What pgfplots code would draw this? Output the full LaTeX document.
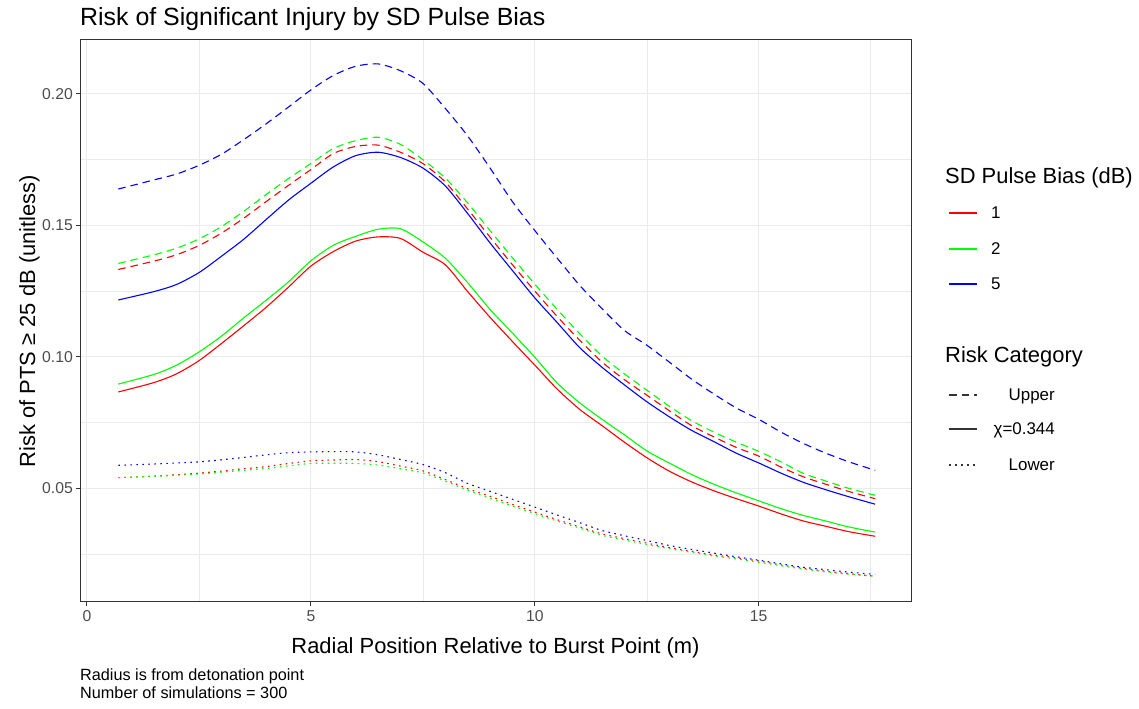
\documentclass[border=0pt]{standalone}
\usepackage{pgfplots}
\usepackage{pgfplotstable}
\pgfplotsset{compat=1.18}
\usepackage{fontspec}
\setmainfont{Liberation Sans}

\definecolor{gridgrey}{HTML}{EBEBEB}
\definecolor{frame}{HTML}{333333}
\definecolor{ticktext}{HTML}{4D4D4D}
\definecolor{bias1}{HTML}{FF0000}
\definecolor{bias2}{HTML}{00FF00}
\definecolor{bias5}{HTML}{0000FF}

% Risk of PTS >= 25 dB along the radial position, per SD pulse bias (1, 2, 5 dB)
% U = upper bound, C = chi = 0.344, L = lower bound
\pgfplotstableread{
x     RU     GU     BU     RC     GC     BC     RL     GL     BL
0.7   0.1332 0.1355 0.1638 0.0866 0.0896 0.1216 0.0540 0.0540 0.0587
1.5   0.1364 0.1388 0.1673 0.0902 0.0933 0.1248 0.0546 0.0545 0.0592
2.0   0.1388 0.1413 0.1695 0.0935 0.0968 0.1275 0.0551 0.0549 0.0596
2.5   0.1423 0.1448 0.1728 0.0985 0.1018 0.1320 0.0557 0.0554 0.0600
3.0   0.1470 0.1495 0.1770 0.1050 0.1078 0.1382 0.0565 0.0561 0.0608
3.5   0.1527 0.1553 0.1826 0.1118 0.1148 0.1447 0.0574 0.0568 0.0617
4.0   0.1590 0.1617 0.1886 0.1188 0.1215 0.1522 0.0582 0.0575 0.0627
4.5   0.1652 0.1678 0.1950 0.1265 0.1285 0.1596 0.0594 0.0585 0.0635
5.0   0.1712 0.1735 0.2015 0.1345 0.1365 0.1660 0.0604 0.0594 0.0638
5.5   0.1773 0.1792 0.2070 0.1400 0.1424 0.1722 0.0607 0.0595 0.0639
6.0   0.1800 0.1822 0.2105 0.1440 0.1458 0.1765 0.0609 0.0594 0.0638
6.5   0.1805 0.1835 0.2114 0.1456 0.1485 0.1778 0.0601 0.0588 0.0627
7.0   0.1778 0.1808 0.2088 0.1450 0.1487 0.1758 0.0584 0.0574 0.0609
7.5   0.1735 0.1750 0.2040 0.1398 0.1437 0.1718 0.0566 0.0558 0.0590
8.0   0.1665 0.1680 0.1945 0.1350 0.1375 0.1650 0.0533 0.0527 0.0559
8.5   0.1562 0.1585 0.1840 0.1248 0.1282 0.1545 0.0498 0.0492 0.0518
9.0   0.1455 0.1480 0.1718 0.1150 0.1180 0.1433 0.0469 0.0462 0.0488
9.5   0.1350 0.1377 0.1590 0.1058 0.1090 0.1328 0.0438 0.0432 0.0458
10.0  0.1250 0.1276 0.1480 0.0968 0.0998 0.1224 0.0409 0.0403 0.0428
10.5  0.1153 0.1180 0.1375 0.0877 0.0900 0.1130 0.0380 0.0375 0.0398
11.0  0.1063 0.1088 0.1272 0.0800 0.0825 0.1035 0.0353 0.0348 0.0369
11.5  0.0980 0.1003 0.1183 0.0738 0.0762 0.0960 0.0326 0.0321 0.0339
12.0  0.0913 0.0935 0.1100 0.0675 0.0703 0.0893 0.0308 0.0303 0.0319
12.5  0.0854 0.0873 0.1044 0.0616 0.0642 0.0829 0.0291 0.0286 0.0301
13.0  0.0795 0.0812 0.0980 0.0565 0.0596 0.0772 0.0274 0.0270 0.0282
13.5  0.0738 0.0757 0.0915 0.0524 0.0552 0.0720 0.0260 0.0256 0.0267
14.0  0.0695 0.0713 0.0858 0.0490 0.0515 0.0677 0.0246 0.0242 0.0253
14.5  0.0655 0.0675 0.0805 0.0460 0.0482 0.0633 0.0235 0.0231 0.0239
15.0  0.0622 0.0640 0.0762 0.0432 0.0452 0.0596 0.0223 0.0218 0.0226
15.5  0.0580 0.0600 0.0713 0.0402 0.0422 0.0557 0.0208 0.0205 0.0212
16.0  0.0543 0.0556 0.0670 0.0375 0.0396 0.0522 0.0195 0.0192 0.0199
16.5  0.0515 0.0527 0.0633 0.0355 0.0375 0.0494 0.0184 0.0182 0.0190
17.0  0.0488 0.0500 0.0601 0.0335 0.0353 0.0468 0.0175 0.0173 0.0181
17.6  0.0460 0.0473 0.0568 0.0317 0.0333 0.0439 0.0165 0.0165 0.0172
}\risktable

\tikzset{
  upper/.style={dash pattern=on 7.5bp off 5bp},
  lower/.style={dash pattern=on 1.6bp off 4.4bp},
  curve/.style={line width=1.1bp, line cap=butt, line join=round},
  lab/.style={inner sep=0pt, font=\fontsize{#1}{#1}\selectfont},
}

\begin{document}
\begin{tikzpicture}
\fill[white] (0bp,0bp) rectangle (1139bp,709bp);

\begin{axis}[
  at={(80bp,107bp)}, anchor=south west,
  scale only axis, width=831bp, height=562bp,
  xmin=-0.156, xmax=18.40, ymin=0.0067, ymax=0.2205,
  axis line style={frame, line width=1bp},
  xtick={0,5,10,15}, ytick={0.05,0.10,0.15,0.20},
  minor xtick={2.5,7.5,12.5,17.5},
  minor ytick={0.025,0.075,0.125,0.175},
  grid=both,
  major grid style={gridgrey, line width=1bp},
  minor grid style={gridgrey, line width=0.55bp},
  tick align=outside, xtick pos=left, ytick pos=left,
  major tick length=3.7bp, minor tick length=0pt,
  tick style={frame, line width=1bp},
  scaled y ticks=false,
  /pgf/number format/assume math mode=true,
  ticklabel style={font=\fontsize{15.8}{18}\selectfont, text=ticktext},
  yticklabel style={/pgf/number format/.cd, fixed, fixed zerofill, precision=2},
  xticklabel style={yshift=-1bp},
  every axis plot/.append style={smooth, tension=0.45},
  clip=true,
]
\addplot[curve, upper, bias1] table[x=x, y=RU] {\risktable};
\addplot[curve, upper, bias2] table[x=x, y=GU] {\risktable};
\addplot[curve, upper, bias5] table[x=x, y=BU] {\risktable};
\addplot[curve, bias1] table[x=x, y=RC] {\risktable};
\addplot[curve, bias2] table[x=x, y=GC] {\risktable};
\addplot[curve, bias5] table[x=x, y=BC] {\risktable};
\addplot[curve, lower, bias1] table[x=x, y=RL] {\risktable};
\addplot[curve, lower, bias2] table[x=x, y=GL] {\risktable};
\addplot[curve, lower, bias5] table[x=x, y=BL] {\risktable};
\end{axis}

% titles and labels
\node[anchor=base west, lab=25] at (80bp,683bp) {Risk of Significant Injury by SD Pulse Bias};
\node[anchor=base, lab=22] at (495.5bp,55bp) {Radial Position Relative to Burst Point (m)};
\node[anchor=base, rotate=90, lab=22] at (35bp,388bp) {Risk of PTS ≥ 25 dB (unitless)};
\node[anchor=base west, lab=16.3] at (80bp,29bp) {Radius is from detonation point};
\node[anchor=base west, lab=16.3] at (80bp,11bp) {Number of simulations = 300};

% legend: colour
\node[anchor=base west, lab=22] at (945bp,525bp) {SD Pulse Bias (dB)};
\draw[curve, bias1] (949bp,496bp) -- (977bp,496bp);
\draw[curve, bias2] (949bp,460bp) -- (977bp,460bp);
\draw[curve, bias5] (949bp,425bp) -- (977bp,425bp);
\node[anchor=base west, lab=17] at (991bp,490bp) {1};
\node[anchor=base west, lab=17] at (991bp,454bp) {2};
\node[anchor=base west, lab=17] at (991bp,419bp) {5};

% legend: line type
\node[anchor=base west, lab=22] at (945bp,346bp) {Risk Category};
\draw[curve, upper, black!80] (949bp,314bp) -- (977bp,314bp);
\draw[curve, black!80] (949bp,280bp) -- (977bp,280bp);
\draw[curve, lower, black!80] (949bp,244bp) -- (977bp,244bp);
\node[anchor=base east, lab=17] at (1055bp,308bp) {Upper};
\node[anchor=base east, lab=17] at (1055bp,274bp) {χ=0.344};
\node[anchor=base east, lab=17] at (1055bp,238bp) {Lower};
\end{tikzpicture}
\end{document}
